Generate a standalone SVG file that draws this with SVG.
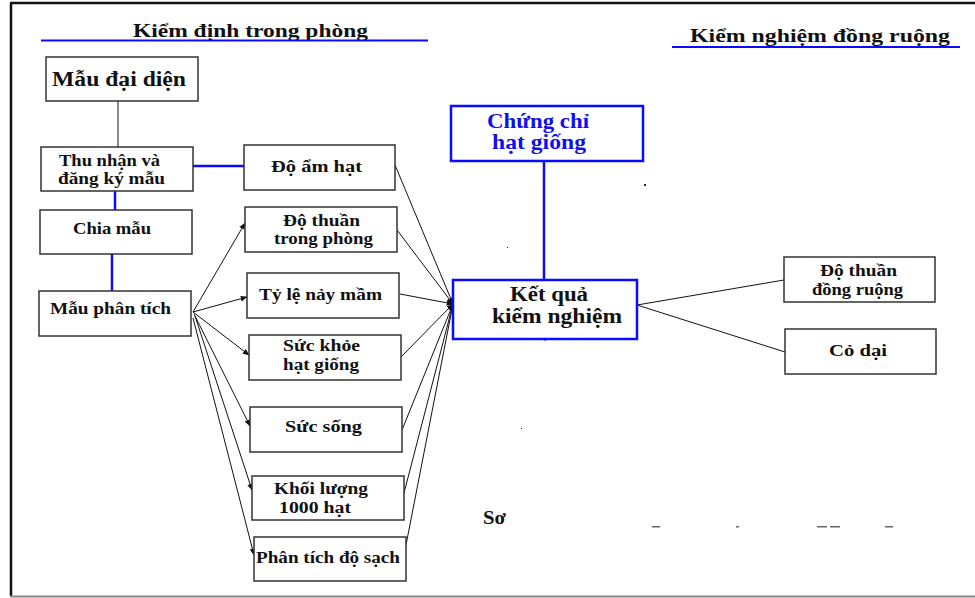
<svg xmlns="http://www.w3.org/2000/svg" width="975" height="598" viewBox="0 0 975 598">
  <style>
    text { font-family: "Liberation Serif", "Times New Roman", serif; font-weight: bold; fill: #111; }
    .box { fill: #fff; stroke: #333; stroke-width: 1.5; }
    .bbox { fill: #fff; stroke: #0a0aff; stroke-width: 2.5; }
    .lbl { font-size: 17px; }
    .big { font-size: 20px; }
    .head { font-size: 18px; }
    .blue { fill: #1010ee; }
    .bl { stroke: #0a0aff; stroke-width: 2.5; fill: none; }
    .k { stroke: #111; stroke-width: 1; fill: none; }
    .ka { stroke: #111; stroke-width: 1; fill: none; marker-end: url(#arr); }
  </style>
  <defs>
    <marker id="arr" viewBox="0 0 10 10" refX="9" refY="5" markerWidth="7" markerHeight="7" markerUnits="userSpaceOnUse" orient="auto">
      <path d="M0,1 L10,5 L0,9 z" fill="#111"/>
    </marker>
  </defs>

  <rect x="0" y="0" width="975" height="598" fill="#fff"/>

  <!-- page frame -->
  <line x1="10" y1="3" x2="975" y2="3" stroke="#111" stroke-width="2.5"/>
  <line x1="11" y1="3" x2="11" y2="596" stroke="#111" stroke-width="2.5"/>
  <line x1="10" y1="596.5" x2="975" y2="596.5" stroke="#888" stroke-width="2"/>

  <!-- section headings -->
  <g id="heading-lab">
    <text class="head" x="133" y="37" textLength="235" lengthAdjust="spacingAndGlyphs">Kiểm định trong phòng</text>
    <line x1="41" y1="40.5" x2="428" y2="40.5" stroke="#0a0aff" stroke-width="2"/>
  </g>
  <g id="heading-field">
    <text class="head" x="690" y="42" textLength="260" lengthAdjust="spacingAndGlyphs">Kiểm nghiệm đồng ruộng</text>
    <line x1="672" y1="47" x2="960" y2="47" stroke="#0a0aff" stroke-width="2"/>
  </g>

  <!-- connectors -->
  <g id="connectors">
    <line class="k" x1="118" y1="101" x2="118" y2="147"/>
    <line class="bl" x1="115" y1="191" x2="115" y2="210"/>
    <line class="bl" x1="112" y1="254" x2="112" y2="291"/>
    <line class="bl" x1="193" y1="166" x2="244" y2="166"/>
    <line class="bl" x1="544" y1="161" x2="544" y2="280"/>

    <!-- analysis sample to each test -->
    <line class="ka" x1="193" y1="312" x2="245" y2="223"/>
    <line class="ka" x1="193" y1="312" x2="247" y2="297"/>
    <line class="ka" x1="193" y1="312" x2="249" y2="355"/>
    <line class="ka" x1="194" y1="314" x2="250" y2="426"/>
    <line class="ka" x1="195" y1="316" x2="252" y2="490"/>
    <line class="ka" x1="193" y1="318" x2="254" y2="555"/>

    <!-- tests to result -->
    <line class="ka" x1="395" y1="165" x2="453" y2="304"/>
    <line class="ka" x1="397" y1="230" x2="453" y2="304"/>
    <line class="ka" x1="400" y1="294" x2="453" y2="304"/>
    <line class="ka" x1="401" y1="357" x2="453" y2="304"/>
    <line class="ka" x1="402" y1="430" x2="453" y2="304"/>
    <line class="ka" x1="404" y1="493" x2="453" y2="304"/>
    <line class="ka" x1="406" y1="545" x2="453" y2="304"/>

    <!-- result to field checks -->
    <line class="k" x1="637" y1="305" x2="784" y2="280"/>
    <line class="k" x1="637" y1="305" x2="785" y2="352"/>
  </g>

  <!-- lab chain -->
  <g id="mau-dai-dien">
    <rect class="box" x="46" y="57" width="152" height="44"/>
    <text class="big" x="52" y="86" textLength="134" lengthAdjust="spacingAndGlyphs">Mẫu đại diện</text>
  </g>
  <g id="thu-nhan">
    <rect class="box" x="41" y="147" width="152" height="44"/>
    <text class="lbl" x="59" y="166" textLength="101" lengthAdjust="spacingAndGlyphs">Thu nhận và</text>
    <text class="lbl" x="58" y="184" textLength="107" lengthAdjust="spacingAndGlyphs">đăng ký mẫu</text>
  </g>
  <g id="chia-mau">
    <rect class="box" x="40" y="210" width="152" height="44"/>
    <text class="lbl" x="73" y="234" textLength="78" lengthAdjust="spacingAndGlyphs">Chia mẫu</text>
  </g>
  <g id="mau-phan-tich">
    <rect class="box" x="39" y="291" width="152" height="45"/>
    <text class="lbl" x="50" y="314" textLength="121" lengthAdjust="spacingAndGlyphs">Mẫu phân tích</text>
  </g>

  <!-- lab tests -->
  <g id="do-am-hat">
    <rect class="box" x="244" y="145" width="151" height="45"/>
    <text class="lbl" x="271" y="172" textLength="91" lengthAdjust="spacingAndGlyphs">Độ ẩm hạt</text>
  </g>
  <g id="do-thuan-phong">
    <rect class="box" x="245" y="207" width="152" height="45"/>
    <text class="lbl" x="283" y="226" textLength="77" lengthAdjust="spacingAndGlyphs">Độ thuần</text>
    <text class="lbl" x="274" y="244" textLength="99" lengthAdjust="spacingAndGlyphs">trong phòng</text>
  </g>
  <g id="ty-le-nay-mam">
    <rect class="box" x="247" y="273" width="152" height="45"/>
    <text class="lbl" x="259" y="300" textLength="123" lengthAdjust="spacingAndGlyphs">Tỷ lệ nảy mầm</text>
  </g>
  <g id="suc-khoe">
    <rect class="box" x="249" y="335" width="152" height="45"/>
    <text class="lbl" x="283" y="351" textLength="77" lengthAdjust="spacingAndGlyphs">Sức khỏe</text>
    <text class="lbl" x="283" y="370" textLength="76" lengthAdjust="spacingAndGlyphs">hạt giống</text>
  </g>
  <g id="suc-song">
    <rect class="box" x="250" y="407" width="152" height="45"/>
    <text class="lbl" x="285" y="432" textLength="77" lengthAdjust="spacingAndGlyphs">Sức sống</text>
  </g>
  <g id="khoi-luong">
    <rect class="box" x="252" y="476" width="152" height="44"/>
    <text class="lbl" x="274" y="494" textLength="94" lengthAdjust="spacingAndGlyphs">Khối lượng</text>
    <text class="lbl" x="279" y="513" textLength="72" lengthAdjust="spacingAndGlyphs">1000 hạt</text>
  </g>
  <g id="do-sach">
    <rect class="box" x="254" y="537" width="152" height="44"/>
    <text class="lbl" x="256" y="563" textLength="144" lengthAdjust="spacingAndGlyphs">Phân tích độ sạch</text>
  </g>

  <!-- outcome -->
  <g id="chung-chi">
    <rect class="bbox" x="451" y="106" width="192" height="55"/>
    <text class="big blue" x="487" y="128" textLength="102" lengthAdjust="spacingAndGlyphs">Chứng chỉ</text>
    <text class="big blue" x="492" y="149" textLength="94" lengthAdjust="spacingAndGlyphs">hạt giống</text>
  </g>
  <g id="ket-qua">
    <rect class="bbox" x="453" y="280" width="184" height="59"/>
    <text class="big" x="510" y="301" textLength="78" lengthAdjust="spacingAndGlyphs">Kết quả</text>
    <text class="big" x="492" y="323" textLength="130" lengthAdjust="spacingAndGlyphs">kiểm nghiệm</text>
  </g>

  <!-- field checks -->
  <g id="do-thuan-dong">
    <rect class="box" x="784" y="257" width="151" height="45"/>
    <text class="lbl" x="820" y="276" textLength="77" lengthAdjust="spacingAndGlyphs">Độ thuần</text>
    <text class="lbl" x="812" y="295" textLength="91" lengthAdjust="spacingAndGlyphs">đồng ruộng</text>
  </g>
  <g id="co-dai">
    <rect class="box" x="785" y="329" width="151" height="45"/>
    <text class="lbl" x="829" y="356" textLength="58" lengthAdjust="spacingAndGlyphs">Cỏ dại</text>
  </g>

  <!-- caption fragment -->
  <text class="head" x="483" y="524" textLength="23" lengthAdjust="spacingAndGlyphs">Sơ</text>
  <g fill="#666">
    <rect x="652" y="526" width="8" height="1.5"/>
    <rect x="736" y="526" width="3" height="1.5"/>
    <rect x="817" y="526" width="10" height="1.5"/>
    <rect x="830" y="526" width="10" height="1.5"/>
    <rect x="885" y="526" width="8" height="1.5"/>
  </g>
  <g fill="#223">
    <rect x="644" y="184" width="2" height="2"/>
    <rect x="507" y="247" width="1" height="1"/>
    <rect x="521" y="428" width="1" height="1"/>
    <rect x="544" y="339" width="2" height="1.5" fill="#0a0aff"/>
  </g>
</svg>
